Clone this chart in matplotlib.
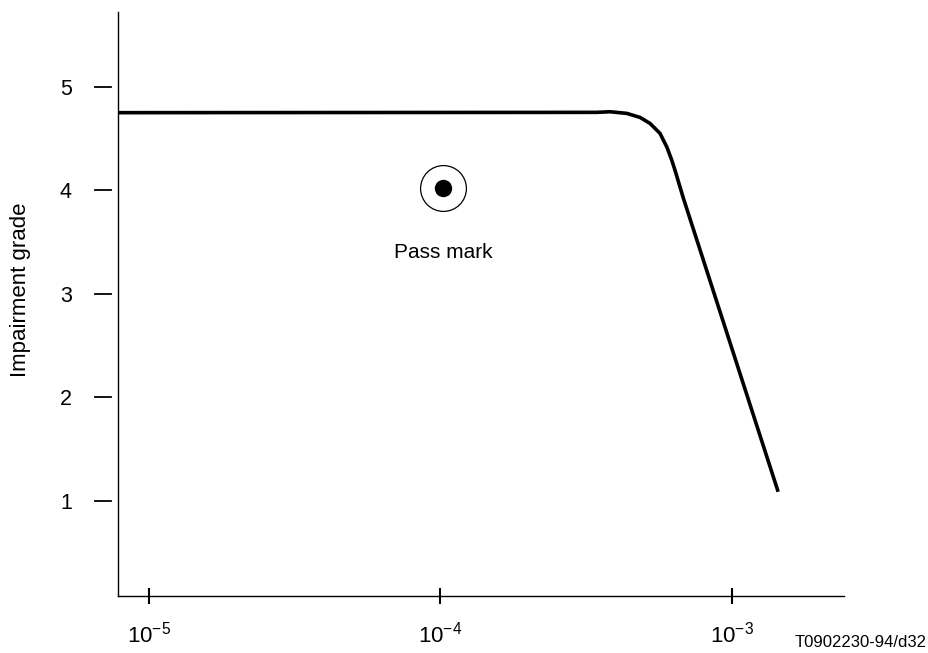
#!/usr/bin/env python3
"""Impairment grade vs error ratio, with pass mark."""
import matplotlib
matplotlib.use('Agg')
import matplotlib.pyplot as plt
import matplotlib.transforms as mtransforms

plt.rcParams['font.family'] = ['Liberation Sans', 'DejaVu Sans']
plt.rcParams['mathtext.fontset'] = 'custom'
plt.rcParams['mathtext.rm'] = 'Liberation Sans'
plt.rcParams['mathtext.it'] = 'Liberation Sans:italic'
plt.rcParams['mathtext.bf'] = 'Liberation Sans:bold'

# -------- data --------
curve_x = [7.8e-6, 3.43e-4, 3.815e-4, 4.355e-4, 4.835e-4, 5.233e-4, 5.66e-4,
           5.97e-4, 6.21e-4, 6.37e-4, 6.81e-4, 1.439e-3]
curve_y = [4.75, 4.753, 4.759, 4.743, 4.704, 4.646, 4.550,
           4.420, 4.292, 4.195, 3.922, 1.087]
pass_x, pass_y = 1.02e-4, 4.025
pass_label = "Pass mark"
y_ticks = [1, 2, 3, 4, 5]
x_ticks = [1e-5, 1e-4, 1e-3]
x_ticklabels = [r"$10^{-5}$", r"$10^{-4}$", r"$10^{-3}$"]

fig = plt.figure(figsize=(9.29, 6.53), dpi=100)
ax = fig.add_axes([0.1267, 0.0873, 0.7818, 0.8939])
ax.set_xscale('log')
ax.set_xlim(7.82e-6, 2.42e-3)
ax.set_ylim(0.08, 5.72)

ax.spines['top'].set_visible(False)
ax.spines['right'].set_visible(False)
ax.spines['left'].set_linewidth(1.0)
ax.spines['bottom'].set_linewidth(1.0)

# curve
ax.plot(curve_x, curve_y, color='black', lw=2.6, solid_capstyle='butt', zorder=3)

# pass mark
ax.plot([pass_x], [pass_y], 'o', ms=33, mfc='white', mec='black', mew=0.9, zorder=4)
ax.plot([pass_x], [pass_y], 'o', ms=11.5, color='black', zorder=5)
ax.annotate(pass_label, (pass_x, pass_y), xytext=(0, -47), textcoords='offset points',
            ha='center', va='center', fontsize=15)

# x ticks
ax.set_xticks(x_ticks)
ax.set_xticklabels(x_ticklabels)
ax.xaxis.set_minor_locator(matplotlib.ticker.NullLocator())
ax.tick_params(axis='x', direction='inout', length=11, width=1.5, pad=13, labelsize=16)

# y ticks: drawn with a gap from the spine
ax.set_yticks(y_ticks)
ax.tick_params(axis='y', length=0, pad=33, labelsize=15.5)
tr = mtransforms.blended_transform_factory(ax.transAxes, ax.transData)
for yv in y_ticks:
    ax.plot([-0.0313, -0.0096], [yv, yv], color='black', lw=1.3, transform=tr,
            clip_on=False)

ax.set_ylabel("Impairment grade", fontsize=16)
ax.yaxis.set_label_coords(-0.12, 0.524)

fig.text(0.997, 0.004, "T0902230-94/d32", ha='right', va='bottom', fontsize=12)

fig.savefig("out.png", dpi=100, facecolor='white')
plt.close(fig)
